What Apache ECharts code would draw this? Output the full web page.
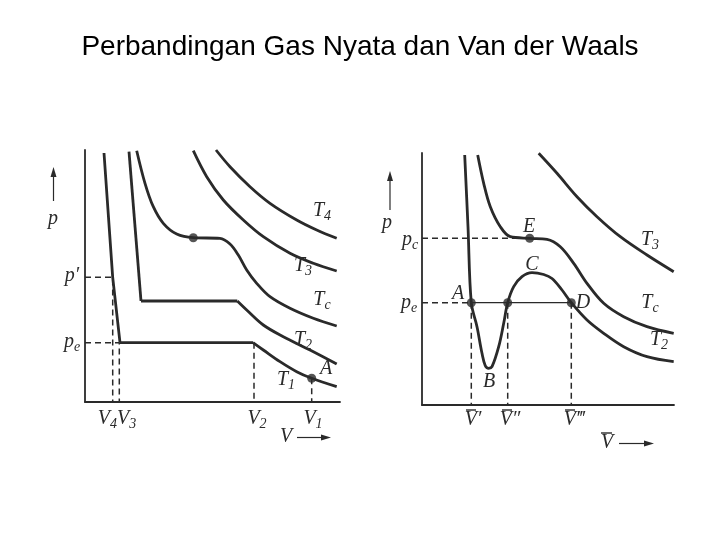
<!DOCTYPE html>
<html>
<head>
<meta charset="utf-8">
<script src="https://cdn.jsdelivr.net/npm/echarts@6/dist/echarts.min.js"></script>
<style>html,body{margin:0;padding:0;background:#fff}#c{width:720px;height:540px}</style>
</head>
<body>
<div id="c"></div>
<script>
// ---- Data (arbitrary V / p units) ----
// Left panel: real-gas isotherms
const leftT1Steep = [[19,249],[27.7,124.7],[35,59.3]];
const leftT1Flat  = [[35,59.3],[168,59.3]];
const leftT1Tail  = [[168,59.3],[178.3,52],[195,40.3],[211.7,30.3],[226.7,23.7],[251.7,15.3]];
const leftT2Steep = [[44,250.3],[56,101]];
const leftT2Flat  = [[56,101],[152.3,101]];
const leftT2Tail  = [[152.3,101],[161.7,92],[178.3,77],[198.3,65.3],[225,52],[251.7,38]];
const leftTc = [[51.7,251.3],[60,218.7],[68.3,195.3],[78.3,178.7],[91.7,168],[108.3,164.3],[135,163.7],[145,158],[153.3,147],[161.7,132],[171.7,118.7],[185,105.3],[205,93.7],[228.3,83.7],[251.7,76]];
const leftT3 = [[108.3,251.3],[121.7,225.3],[138.3,202],[158.3,182],[178.3,165.3],[205,148.7],[228.3,138.7],[251.7,131]];
const leftT4 = [[131,252],[145,235.3],[165,215.3],[185,198.7],[211.7,182],[231.7,172],[251.7,163.7]];
const leftDots = [[108.3,164.3],[226.7,23.7]];
const leftPPrime = [[0,124.7],[27.7,124.7],[27.7,0]];
const leftPe = [[0,59.3],[34.3,59.3],[34.3,0]];
const leftV2 = [[169,59.3],[169,0]];
const leftV1 = [[226.7,23.7],[226.7,0]];

// Right panel: van der Waals isotherms
const rightT2 = [[42.7,250],[46,178.3],[49.3,102.3],[55,78.3],[60,51.7],[63.3,39.3],[66.7,36.7],[70,38.3],[76.7,58.3],[81.7,81.7],[85.7,102.3],[91.7,118.3],[100,128.3],[110,132.3],[121.7,130.5],[130,126.5],[140,115],[149.3,102.3],[165,85],[181.7,71.7],[201.7,58.3],[225,48.3],[251.7,43.3]];
const rightTc = [[55.7,250],[61.7,221.7],[68.3,198.3],[78.3,178.3],[88.3,168.3],[107.7,166.7],[125,165.7],[138.3,158.3],[151.7,141.7],[165,121.7],[181.7,101.7],[201.7,88.3],[225,78.3],[251.7,71.7]];
const rightT3 = [[116.7,251.7],[135,231.7],[155,208.3],[175,188.3],[198.3,168.3],[225,150],[251.7,133.3]];
const rightDots = [[107.7,166.7],[49.3,102.3],[85.7,102.3],[149.3,102.3]];
const rightPc = [[0,166.7],[107.7,166.7]];
const rightPe = [[0,102.3],[49.3,102.3]];
const rightV1 = [[49.3,102.3],[49.3,0]];
const rightV2 = [[85.7,102.3],[85.7,0]];
const rightV3 = [[149.3,102.3],[149.3,0]];
const rightAD = [[49.3,102.3],[149.3,102.3]];

const titleText = 'Perbandingan Gas Nyata dan Van der Waals';

// ---- Styles ----
const INK = '#2a2a2a';
const SERIF = '"Liberation Serif","DejaVu Serif",serif';
const RICH = {
  m: {fontFamily: SERIF, fontStyle: 'italic', fontSize: 20, fill: INK},
  s: {fontFamily: SERIF, fontStyle: 'italic', fontSize: 14, fill: INK, padding: [10,0,0,0]}
};

function curve(data, g, smooth) {
  return {type:'line', xAxisIndex:g, yAxisIndex:g, data:data, smooth: smooth === undefined ? 0.35 : smooth,
    symbol:'none', silent:true, lineStyle:{color:INK, width:2.8}, z:3};
}
function dashed(data, g) {
  return {type:'line', xAxisIndex:g, yAxisIndex:g, data:data, symbol:'none', silent:true,
    lineStyle:{color:INK, width:1.5, type:[6,4]}, z:2};
}
function thin(data, g) {
  return {type:'line', xAxisIndex:g, yAxisIndex:g, data:data, symbol:'none', silent:true,
    lineStyle:{color:INK, width:1.3}, z:2};
}
function dots(data, g) {
  return {type:'scatter', xAxisIndex:g, yAxisIndex:g, data:data, symbolSize:9, silent:true,
    itemStyle:{color:INK}, z:5};
}
function label(x, y, txt) {
  return {type:'text', x:x, y:y, silent:true, style:{text:txt, rich:RICH, align:'center', verticalAlign:'middle', fill:INK}};
}
function seg(x1,y1,x2,y2,w) {
  return {type:'line', silent:true, shape:{x1:x1,y1:y1,x2:x2,y2:y2}, style:{stroke:INK, lineWidth:w||1.2}};
}
function tri(points) {
  return {type:'polygon', silent:true, shape:{points:points}, style:{fill:INK}};
}
function axisX(max, g) {
  return {type:'value', gridIndex:g, min:0, max:max, axisLine:{show:true, onZero:false, lineStyle:{color:INK, width:1.8}},
    axisTick:{show:false}, axisLabel:{show:false}, splitLine:{show:false}};
}

const chart = echarts.init(document.getElementById('c'), null, {renderer:'canvas'});
chart.setOption({
  animation: false,
  backgroundColor: '#fff',
  title: {text: titleText, left:'center', top:28,
    textStyle:{fontFamily:'"Liberation Sans", Arial, sans-serif', fontSize:28, fontWeight:'normal', color:'#000'}},
  grid: [
    {left:85, top:150, width:255, height:252},
    {left:422, top:153, width:252, height:252}
  ],
  xAxis: [axisX(255,0), axisX(252,1)],
  yAxis: [axisX(252,0), axisX(252,1)],
  series: [
    curve(leftT1Steep,0,0), curve(leftT1Flat,0,0), curve(leftT1Tail,0),
    curve(leftT2Steep,0,0), curve(leftT2Flat,0,0), curve(leftT2Tail,0),
    curve(leftTc,0), curve(leftT3,0), curve(leftT4,0),
    dashed(leftPPrime,0), dashed(leftPe,0), dashed(leftV2,0), dashed(leftV1,0),
    dots(leftDots,0),
    curve(rightT2,1), curve(rightTc,1), curve(rightT3,1),
    dashed(rightPc,1), dashed(rightPe,1), dashed(rightV1,1), dashed(rightV2,1), dashed(rightV3,1),
    thin(rightAD,1),
    dots(rightDots,1)
  ],
  graphic: [
    // left panel labels
    label(53, 219, '{m|p}'),
    seg(53.5, 201, 53.5, 176, 1.2), tri([[53.5,167],[50.5,177],[56.5,177]]),
    label(72, 276, '{m|p′}'),
    label(72, 342, '{m|p}{s|e}'),
    label(322, 211, '{m|T}{s|4}'),
    label(303, 266, '{m|T}{s|3}'),
    label(322, 300, '{m|T}{s|c}'),
    label(303, 340, '{m|T}{s|2}'),
    label(286, 380, '{m|T}{s|1}'),
    label(326, 369, '{m|A}'),
    label(117, 419, '{m|V}{s|4}{m|V}{s|3}'),
    label(257, 419, '{m|V}{s|2}'),
    label(313, 419, '{m|V}{s|1}'),
    label(286, 437, '{m|V}'),
    seg(297, 437.5, 322, 437.5, 1.2), tri([[331,437.5],[321,434.5],[321,440.5]]),
    // right panel labels
    label(387, 223, '{m|p}'),
    seg(390, 210, 390, 180, 1.2), tri([[390,171],[387,181],[393,181]]),
    label(410, 240, '{m|p}{s|c}'),
    label(409, 303, '{m|p}{s|e}'),
    label(529, 227, '{m|E}'),
    label(532, 265, '{m|C}'),
    label(458, 294, '{m|A}'),
    label(583, 303, '{m|D}'),
    label(489, 382, '{m|B}'),
    label(650, 240, '{m|T}{s|3}'),
    label(650, 303, '{m|T}{s|c}'),
    label(659, 340, '{m|T}{s|2}'),
    label(473, 420, '{m|V′}'), seg(466, 410, 476, 410, 1.4),
    label(510, 420, '{m|V″}'), seg(502, 410, 512, 410, 1.4),
    label(574, 420, '{m|V‴}'), seg(565, 410, 575, 410, 1.4),
    label(607, 443, '{m|V}'), seg(601, 433, 612, 433, 1.4),
    seg(619, 443.5, 645, 443.5, 1.2), tri([[654,443.5],[644,440.5],[644,446.5]])
  ]
});
</script>
</body>
</html>
